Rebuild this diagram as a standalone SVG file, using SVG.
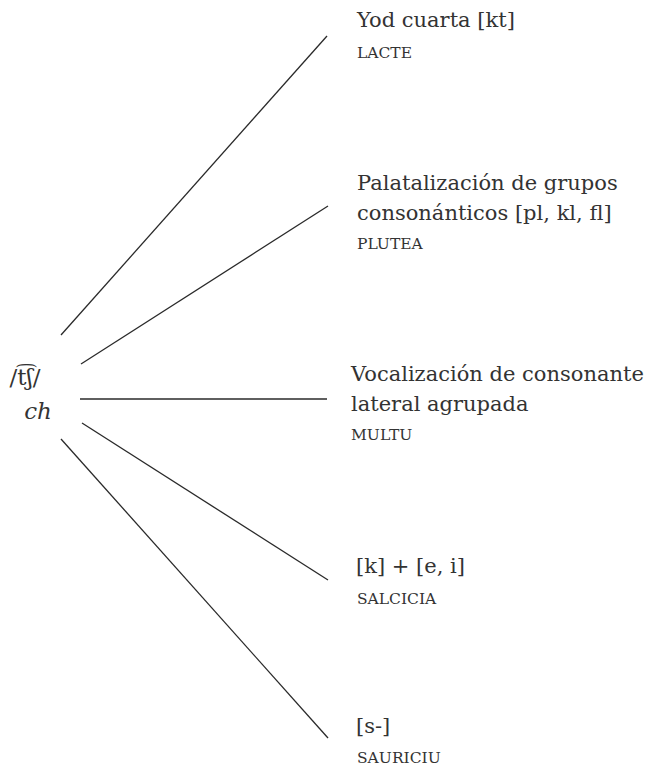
<svg xmlns="http://www.w3.org/2000/svg" width="650" height="766" viewBox="0 0 650 766">
<style>
  .t { font-family: "DejaVu Serif", "Liberation Serif", serif; font-size: 21px; fill: #333; }
  .sc { font-family: "DejaVu Serif", "Liberation Serif", serif; font-size: 15.5px; fill: #333; }
  .root { font-family: "DejaVu Serif", "Liberation Serif", serif; font-size: 23px; fill: #333; }
  .it { font-style: italic; }
  .edge { stroke: #2a2a2a; stroke-width: 1.3; fill: none; }
</style>
<rect width="650" height="766" fill="#ffffff"/>
<g id="connectors">
  <line class="edge" x1="61" y1="335" x2="327" y2="36"/>
  <line class="edge" x1="81" y1="364" x2="328" y2="206"/>
  <line class="edge" x1="80" y1="399" x2="327" y2="399"/>
  <line class="edge" x1="82" y1="423" x2="328" y2="580"/>
  <line class="edge" x1="61" y1="439" x2="328" y2="738"/>
</g>
<g id="root">
  <text class="root" x="25" y="385" text-anchor="middle">/t͡ʃ/</text>
  <text class="root it" x="38" y="419" text-anchor="middle">ch</text>
</g>
<g id="n1">
  <text class="t" x="357" y="27">Yod cuarta [kt]</text>
  <text class="sc" x="357" y="58">LACTE</text>
</g>
<g id="n2">
  <text class="t" x="357" y="190">Palatalización de grupos</text>
  <text class="t" x="357" y="220">consonánticos [pl, kl, fl]</text>
  <text class="sc" x="357" y="249">PLUTEA</text>
</g>
<g id="n3">
  <text class="t" x="351" y="381">Vocalización de consonante</text>
  <text class="t" x="351" y="411">lateral agrupada</text>
  <text class="sc" x="351" y="440">MULTU</text>
</g>
<g id="n4">
  <text class="t" x="356" y="573">[k] + [e, i]</text>
  <text class="sc" x="357" y="604">SALCICIA</text>
</g>
<g id="n5">
  <text class="t" x="356" y="733">[s-]</text>
  <text class="sc" x="357" y="763">SAURICIU</text>
</g>
</svg>
